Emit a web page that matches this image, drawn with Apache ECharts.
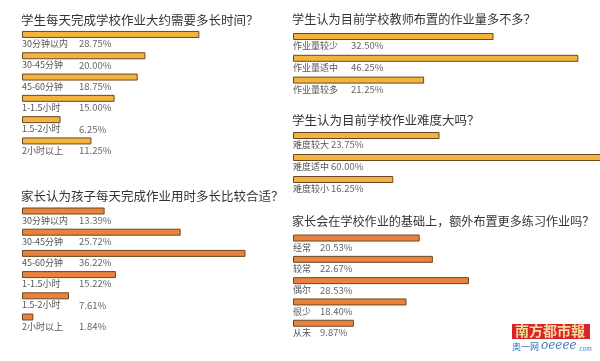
<!DOCTYPE html>
<html>
<head>
<meta charset="utf-8">
<script src="https://cdn.jsdelivr.net/npm/echarts@6/dist/echarts.min.js"></script>
<style>
  html, body { margin: 0; padding: 0; background: #fff; }
  #main { width: 600px; height: 361px; }
</style>
</head>
<body>
<div id="main"></div>
<script>
// 学生：完成作业时间
var q1Title = '学生每天完成学校作业大约需要多长时间？';
var q1Cats = ['30分钟以内', '30-45分钟', '45-60分钟', '1-1.5小时', '1.5-2小时', '2小时以上'];
var q1Vals = [28.75, 20.00, 18.75, 15.00, 6.25, 11.25];

// 学生：作业量
var q2Title = '学生认为目前学校教师布置的作业量多不多？';
var q2Cats = ['作业量较少', '作业量适中', '作业量较多'];
var q2Vals = [32.50, 46.25, 21.25];

// 学生：作业难度
var q3Title = '学生认为目前学校作业难度大吗？';
var q3Cats = ['难度较大', '难度适中', '难度较小'];
var q3Vals = [23.75, 60.00, 16.25];

// 家长：合适用时
var q4Title = '家长认为孩子每天完成作业用时多长比较合适？';
var q4Cats = ['30分钟以内', '30-45分钟', '45-60分钟', '1-1.5小时', '1.5-2小时', '2小时以上'];
var q4Vals = [13.39, 25.72, 36.22, 15.22, 7.61, 1.84];

// 家长：额外布置作业
var q5Title = '家长会在学校作业的基础上，额外布置更多练习作业吗？';
var q5Cats = ['经常', '较常', '偶尔', '很少', '从未'];
var q5Vals = [20.53, 22.67, 28.53, 18.40, 9.87];

var FONT = '"Noto Sans CJK SC", sans-serif';
var YELLOW = '#f2b43c';
var ORANGE = '#e9823c';
var PX_PER_PCT = 6.17;

// 每个小图: 数据 + 放在哪
var panels = [
  {title: q1Title, cats: q1Cats, vals: q1Vals, color: YELLOW, left: 22, top: 23.8, step: 21.3, titleY: 22, nameW: 57, titleSize: 12.5},
  {title: q2Title, cats: q2Cats, vals: q2Vals, color: YELLOW, left: 293, top: 25.6, step: 21.8, titleY: 21, nameW: 58, titleSize: 12.2},
  {title: q3Title, cats: q3Cats, vals: q3Vals, color: YELLOW, left: 293, top: 124.5, step: 22, titleY: 122, nameW: 38, titleSize: 12.5},
  {title: q4Title, cats: q4Cats, vals: q4Vals, color: ORANGE, left: 22, top: 200.4, step: 21.2, titleY: 198, nameW: 57, titleSize: 12.5},
  {title: q5Title, cats: q5Cats, vals: q5Vals, color: ORANGE, left: 293, top: 227.4, step: 21.3, titleY: 223, nameW: 27, titleSize: 12.1}
];

var grids = [], xAxes = [], yAxes = [], series = [], titles = [];

panels.forEach(function (p, i) {
  grids.push({
    left: p.left,
    top: p.top,
    width: 100 * PX_PER_PCT,
    height: p.cats.length * p.step,
    containLabel: false,
    outerBoundsMode: 'none'  // 右边的图要伸出画布外
  });
  xAxes.push({
    gridIndex: i, type: 'value', min: 0, max: 100, show: false
  });
  yAxes.push({
    gridIndex: i, type: 'category', data: p.cats, inverse: true, show: false
  });
  titles.push({
    text: p.title,
    left: p.left - 1,
    top: p.titleY - 8,
    padding: 0,
    textStyle: {fontFamily: FONT, fontSize: p.titleSize, fontWeight: 'normal', color: '#333'}
  });
  var nameW = p.nameW;
  series.push({
    type: 'bar',
    xAxisIndex: i,
    yAxisIndex: i,
    data: p.vals,
    barWidth: 7,
    silent: true,
    itemStyle: {
      color: p.color,
      borderColor: '#6a4824',
      borderWidth: 1
    },
    label: {
      show: true,
      position: [0, 8],
      fontFamily: FONT,
      fontSize: 9,
      color: '#555',
      formatter: function (params) {
        return '{n|' + params.name + '}{v|' + params.value.toFixed(2) + '%}';
      },
      rich: {
        n: {width: nameW, fontFamily: FONT, fontSize: 9, color: '#555'},
        v: {fontFamily: FONT, fontSize: 9.5, color: '#666'}
      }
    }
  });
});

var chart = echarts.init(document.getElementById('main'));
chart.setOption({
  backgroundColor: '#fff',
  animation: false,
  title: titles,
  grid: grids,
  xAxis: xAxes,
  yAxis: yAxes,
  series: series,
  graphic: [
    // 报头
    {type: 'rect', left: 512, top: 324, shape: {width: 78, height: 15}, style: {fill: '#d8232f'}},
    {type: 'text', left: 515, top: 324, style: {text: '南方都市報', fontFamily: FONT, fontSize: 14, fontWeight: 'bold', fill: '#f6dc9a'}},
    {type: 'text', left: 512, top: 342, style: {text: '奥一网', fontFamily: FONT, fontSize: 9, fill: '#3d7bb8'}},
    {type: 'text', left: 541, top: 340, style: {text: 'oeeee', fontFamily: '"DejaVu Serif", serif', fontSize: 12, fontStyle: 'italic', fill: '#3d7bb8'}},
    {type: 'text', left: 578, top: 346, style: {text: '.com', fontFamily: FONT, fontSize: 6, fill: '#3d7bb8'}}
  ]
});
</script>
</body>
</html>
